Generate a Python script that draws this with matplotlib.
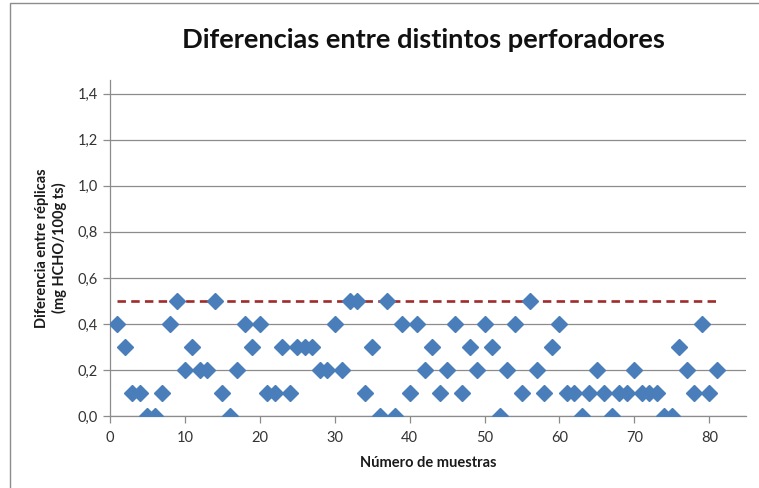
import matplotlib
matplotlib.use("Agg")
import matplotlib.pyplot as plt
from matplotlib.patches import Rectangle

plt.rcParams['font.family'] = ['Lato', 'DejaVu Sans']

muestras = list(range(1, 82))
diferencias = [
    0.4, 0.3, 0.1, 0.1, 0.0, 0.0, 0.1, 0.4, 0.5, 0.2,
    0.3, 0.2, 0.2, 0.5, 0.1, 0.0, 0.2, 0.4, 0.3, 0.4,
    0.1, 0.1, 0.3, 0.1, 0.3, 0.3, 0.3, 0.2, 0.2, 0.4,
    0.2, 0.5, 0.5, 0.1, 0.3, 0.0, 0.5, 0.0, 0.4, 0.1,
    0.4, 0.2, 0.3, 0.1, 0.2, 0.4, 0.1, 0.3, 0.2, 0.4,
    0.3, 0.0, 0.2, 0.4, 0.1, 0.5, 0.2, 0.1, 0.3, 0.4,
    0.1, 0.1, 0.0, 0.1, 0.2, 0.1, 0.0, 0.1, 0.1, 0.2,
    0.1, 0.1, 0.1, 0.0, 0.0, 0.3, 0.2, 0.1, 0.4, 0.1,
    0.2,
]
limite_x = [1, 81]
limite_y = [0.5, 0.5]
xticks = [0, 10, 20, 30, 40, 50, 60, 70, 80]
yticks = [0.0, 0.2, 0.4, 0.6, 0.8, 1.0, 1.2, 1.4]
ytick_labels = ['0,0', '0,2', '0,4', '0,6', '0,8', '1,0', '1,2', '1,4']

W, H = 759, 488
fig = plt.figure(figsize=(W / 100, H / 100), dpi=100)
fig.patch.set_facecolor('white')

# chart border
fig.patches.append(Rectangle((10 / W, -0.01), 1.0, (H - 3) / H + 0.01,
                             transform=fig.transFigure, fill=False,
                             edgecolor='#8c8c8c', linewidth=1.0))

ax = fig.add_axes([110 / W, (H - 416) / H, (746 - 110) / W, (416 - 80) / H])
ax.set_xlim(0, 84.9)
ax.set_ylim(0, 1.46)

ax.yaxis.grid(True, color='#8c8c8c', linewidth=0.9)
ax.set_axisbelow(True)

ax.plot(limite_x, limite_y, linestyle=(0, (3.2, 2.0)), color='#A02B2B',
        linewidth=1.9, zorder=2)
ax.plot(muestras, diferencias, linestyle='none', marker='D', markersize=8,
        color='#4A7EBB', markeredgecolor='#4A7EBB', zorder=3)

ax.set_xticks(xticks)
ax.set_yticks(yticks)
ax.set_yticklabels(ytick_labels)
for s in ['top', 'right']:
    ax.spines[s].set_visible(False)
for s in ['left', 'bottom']:
    ax.spines[s].set_color('#8c8c8c')
    ax.spines[s].set_linewidth(0.9)
ax.tick_params(axis='both', colors='#8c8c8c', labelcolor='#333333',
               labelsize=10.5, length=5, width=0.9, direction='out')
ax.tick_params(axis='x', pad=6)

ax.set_xlabel('Número de muestras', fontsize=10.5, fontweight='bold',
              color='#1a1a1a', labelpad=8)
ax.set_ylabel('Diferencia entre réplicas\n(mg HCHO/100g ts)', fontsize=10.5,
              fontweight='bold', color='#1a1a1a', labelpad=8, linespacing=1.2)

fig.text((183 + 664) / 2 / W, 1 - 40 / H, 'Diferencias entre distintos perforadores',
         ha='center', va='center', fontsize=19.6, fontweight='bold', color='#111111')

fig.savefig('out.png', dpi=100)
